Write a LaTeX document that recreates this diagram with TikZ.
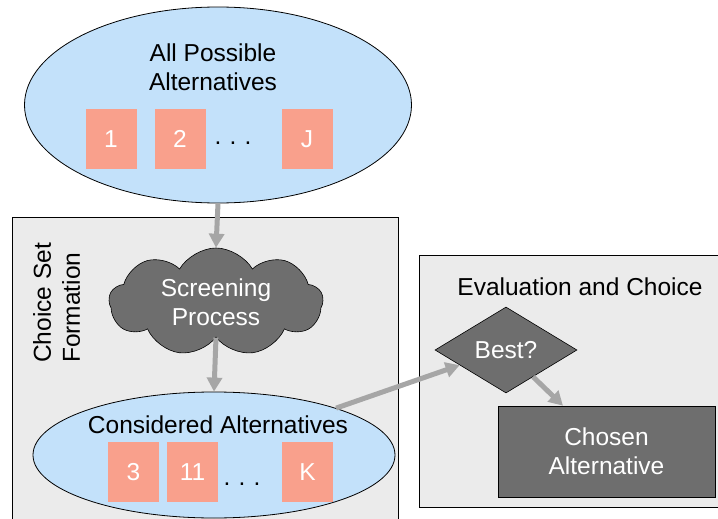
\documentclass[tikz,border=0pt]{standalone}
\usepackage{fontspec}
\setmainfont{Liberation Sans}
\usetikzlibrary{shapes.geometric,shapes.symbols,arrows.meta,calc}
\definecolor{ellblue}{HTML}{C3E1FA}
\definecolor{salmon}{HTML}{F9A08C}
\definecolor{panel}{HTML}{EBEBEB}
\definecolor{darkfill}{HTML}{6E6E6E}
\definecolor{arrowgray}{HTML}{A6A6A6}
\tikzset{
  txt/.style={font=\fontsize{24.5}{29}\selectfont},
  panelbox/.style={draw=black, line width=0.8pt, fill=panel},
  altell/.style={ellipse, draw=black, line width=0.8pt, fill=ellblue, inner sep=0pt},
  altsq/.style={fill=salmon, minimum width=51pt, minimum height=60pt, inner sep=0pt, text=white, txt},
  darknode/.style={draw=black, line width=0.6pt, fill=darkfill, text=white, txt, align=center},
  flow/.style={draw=arrowgray, line width=5pt, -{Triangle[length=14pt,width=15pt]}},
}
\begin{document}
\begin{tikzpicture}[x=1pt,y=-1pt]
\useasboundingbox (0,0) rectangle (718,519);
\clip (0,0) rectangle (718,519);
% panels
\draw[panelbox] (12,217) rectangle (398,540);
\draw[panelbox] (419,255) rectangle (740,507);
% top ellipse
\node[altell, minimum width=387pt, minimum height=196pt] (all) at (218,105) {};
\node[txt, align=center] (alltxt) at (213,67) {All Possible\\Alternatives};
\node[altsq] (s1) at (111,139) {1};
\node[altsq] (s2) at (180,139) {2};
\node[altsq] (sJ) at (307,139) {J};
\node[txt] (d1) at (233,143) {.\,\,.\,\,.};
% cloud
\node[cloud, cloud puffs=9, cloud puff arc=120, aspect=2, draw=black, line width=0.6pt, fill=darkfill, text=white, txt, align=center, minimum width=214pt, minimum height=108pt, inner sep=0pt] (cloud) at (216,302) {Screening\\Process};
% considered ellipse
\node[altell, minimum width=362pt, minimum height=126pt] (cons) at (214,455) {};
\node[txt] (constxt) at (218,425) {Considered Alternatives};
\node[altsq] (s3) at (133.5,472) {3};
\node[altsq] (s11) at (192.5,472) {11};
\node[altsq] (sK) at (307.5,472) {K};
\node[txt] (d2) at (242,484) {.\,\,.\,\,.};
% rotated label
\node[txt, rotate=90, align=left, anchor=north west, inner sep=0pt] (csf) at (33,363) {Choice Set\\Formation};
% evaluation panel
\node[txt] (evtitle) at (580,287) {Evaluation and Choice};
\node[diamond, darknode, aspect=1.65, minimum width=142pt, minimum height=86pt, inner sep=0pt] (best) at (506,350) {Best?};
\node[darknode, minimum width=217pt, minimum height=91pt] (chosen) at (606.5,451.5) {Chosen\\Alternative};
% arrows
\draw[flow] (all.south) -- (cloud.north);
\draw[flow] (cloud.south) -- (cons.north);
\draw[flow] (cons.21) -- ($(best.west)!0.35!(best.south)$);
\draw[flow] ($(best.south)!0.38!(best.east)$) -- ($(chosen.north west)!0.3!(chosen.north east)$);
\end{tikzpicture}
\end{document}
